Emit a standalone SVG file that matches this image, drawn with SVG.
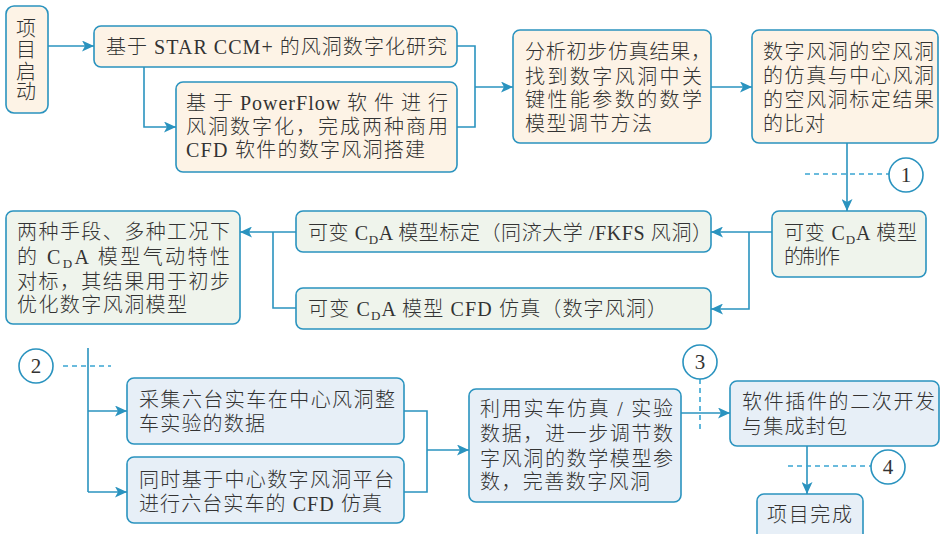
<svg xmlns="http://www.w3.org/2000/svg" width="940" height="534" viewBox="0 0 940 534">
<defs>
<style>
.box{stroke:#2a93bf;stroke-width:1.6}
.b1{fill:#fdf3e6}
.b2{fill:#eff4ec}
.b3{fill:#e7eff7}
text{font-family:"Liberation Serif","Noto Sans CJK SC",serif;font-size:20px;font-weight:300;fill:#333333}
.ln{fill:none;stroke:#2a93bf;stroke-width:1.6}
.ds{fill:none;stroke:#3aa5d2;stroke-width:1.6;stroke-dasharray:5,4}
.cir{fill:#fff;stroke:#2a93bf;stroke-width:1.6}
.num{font-family:"Liberation Serif",serif;font-size:21px;text-anchor:middle}
</style>
<marker id="ar" markerUnits="userSpaceOnUse" markerWidth="13" markerHeight="11" refX="12" refY="5.5" orient="auto">
<path d="M0,0 L12,5.5 L0,11 L3,5.5 Z" fill="#2a93bf"/>
</marker>
</defs>
<rect width="940" height="534" fill="#ffffff"/>

<g id="connectors">
<path class="ln" d="M47,46 H94" marker-end="url(#ar)"/>
<path class="ln" d="M144,67 V127 H176" marker-end="url(#ar)"/>
<path class="ln" d="M457,46 H475 V127 H457"/>
<path class="ln" d="M475,87 H513" marker-end="url(#ar)"/>
<path class="ln" d="M711,87 H752" marker-end="url(#ar)"/>
<path class="ln" d="M847,143 V211" marker-end="url(#ar)"/>
<path class="ds" d="M805,174 H889"/>
<path class="ln" d="M772,232 H711" marker-end="url(#ar)"/>
<path class="ln" d="M749,232 V309 H711" marker-end="url(#ar)"/>
<path class="ln" d="M296,232 H240" marker-end="url(#ar)"/>
<path class="ln" d="M273,232 V308 H296"/>
<path class="ds" d="M63,366 H111"/>
<path class="ln" d="M88,348 V492"/>
<path class="ln" d="M88,411 H127" marker-end="url(#ar)"/>
<path class="ln" d="M88,492 H127" marker-end="url(#ar)"/>
<path class="ln" d="M404,411 H427 V492 H404"/>
<path class="ln" d="M427,450 H469" marker-end="url(#ar)"/>
<path class="ln" d="M681,413 H730" marker-end="url(#ar)"/>
<path class="ds" d="M700,379 V431"/>
<path class="ln" d="M807,446 V494" marker-end="url(#ar)"/>
<path class="ds" d="M788,466 H871"/>
</g>

<g id="marker1"><circle class="cir" cx="906" cy="175" r="17"/><text class="num" x="906" y="182">1</text></g>
<g id="marker2"><circle class="cir" cx="36" cy="366" r="17"/><text class="num" x="36" y="373">2</text></g>
<g id="marker3"><circle class="cir" cx="700" cy="362" r="17"/><text class="num" x="700" y="369">3</text></g>
<g id="marker4"><circle class="cir" cx="888" cy="467" r="17"/><text class="num" x="888" y="474">4</text></g>

<g id="n1">
<rect class="box b1" x="6" y="6" width="42" height="107" rx="8"/>
<text x="16" y="36">项</text>
<text x="16" y="57">目</text>
<text x="16" y="79">启</text>
<text x="16" y="99">动</text>
</g>

<g id="n2">
<rect class="box b1" x="94" y="26" width="363" height="41" rx="7"/>
<text x="106" y="54" textLength="341">基于 STAR CCM+ 的风洞数字化研究</text>
</g>

<g id="n3">
<rect class="box b1" x="176" y="82" width="281" height="90" rx="7"/>
<text x="186" y="110" textLength="262">基 于 PowerFlow 软 件 进 行</text>
<text x="186" y="134" textLength="262">风洞数字化，完成两种商用</text>
<text x="186" y="157" textLength="239">CFD 软件的数字风洞搭建</text>
</g>

<g id="n4">
<rect class="box b1" x="513" y="30" width="198" height="113" rx="7"/>
<text x="525" y="59" textLength="186">分析初步仿真结果，</text>
<text x="525" y="84" textLength="177">找到数字风洞中关</text>
<text x="525" y="107" textLength="177">键性能参数的数学</text>
<text x="525" y="131" textLength="127">模型调节方法</text>
</g>

<g id="n5">
<rect class="box b1" x="752" y="30" width="186" height="113" rx="7"/>
<text x="763" y="59" textLength="171">数字风洞的空风洞</text>
<text x="763" y="83" textLength="171">的仿真与中心风洞</text>
<text x="763" y="107" textLength="171">的空风洞标定结果</text>
<text x="763" y="131" textLength="62">的比对</text>
</g>

<g id="n6">
<rect class="box b2" x="772" y="211" width="154" height="66" rx="7"/>
<text x="784" y="240" textLength="133">可变 C<tspan font-size="13" dy="4">D</tspan><tspan dy="-4">A 模型</tspan></text>
<text x="784" y="264" textLength="56">的制作</text>
</g>

<g id="n7">
<rect class="box b2" x="296" y="211" width="415" height="41" rx="7"/>
<text x="308" y="240" textLength="404">可变 C<tspan font-size="13" dy="4">D</tspan><tspan dy="-4">A 模型标定（同济大学 /FKFS 风洞）</tspan></text>
</g>

<g id="n8">
<rect class="box b2" x="296" y="288" width="415" height="41" rx="7"/>
<text x="308" y="316" textLength="359">可变 C<tspan font-size="13" dy="4">D</tspan><tspan dy="-4">A 模型 CFD 仿真（数字风洞）</tspan></text>
</g>

<g id="n9">
<rect class="box b2" x="6" y="211" width="234" height="113" rx="7"/>
<text x="17" y="239" textLength="213">两种手段、多种工况下</text>
<text x="17" y="264" textLength="213">的 C<tspan font-size="13" dy="4">D</tspan><tspan dy="-4">A 模型气动特性</tspan></text>
<text x="17" y="289" textLength="213">对标，其结果用于初步</text>
<text x="17" y="312" textLength="170">优化数字风洞模型</text>
</g>

<g id="n10">
<rect class="box b3" x="127" y="378" width="277" height="66" rx="7"/>
<text x="139" y="407" textLength="256">采集六台实车在中心风洞整</text>
<text x="139" y="431" textLength="126">车实验的数据</text>
</g>

<g id="n11">
<rect class="box b3" x="127" y="457" width="277" height="66" rx="7"/>
<text x="139" y="487" textLength="255">同时基于中心数字风洞平台</text>
<text x="139" y="511" textLength="243">进行六台实车的 CFD 仿真</text>
</g>

<g id="n12">
<rect class="box b3" x="469" y="389" width="212" height="113" rx="7"/>
<text x="480" y="416" textLength="193">利用实车仿真 / 实验</text>
<text x="480" y="441" textLength="193">数据，进一步调节数</text>
<text x="480" y="466" textLength="193">字风洞的数学模型参</text>
<text x="480" y="489" textLength="170">数，完善数字风洞</text>
</g>

<g id="n13">
<rect class="box b3" x="730" y="381" width="209" height="65" rx="7"/>
<text x="742" y="409" textLength="193">软件插件的二次开发</text>
<text x="742" y="434" textLength="105">与集成封包</text>
</g>

<g id="n14">
<rect class="box b3" x="757" y="494" width="106" height="48" rx="7"/>
<text x="767" y="522" textLength="85">项目完成</text>
</g>
</svg>
